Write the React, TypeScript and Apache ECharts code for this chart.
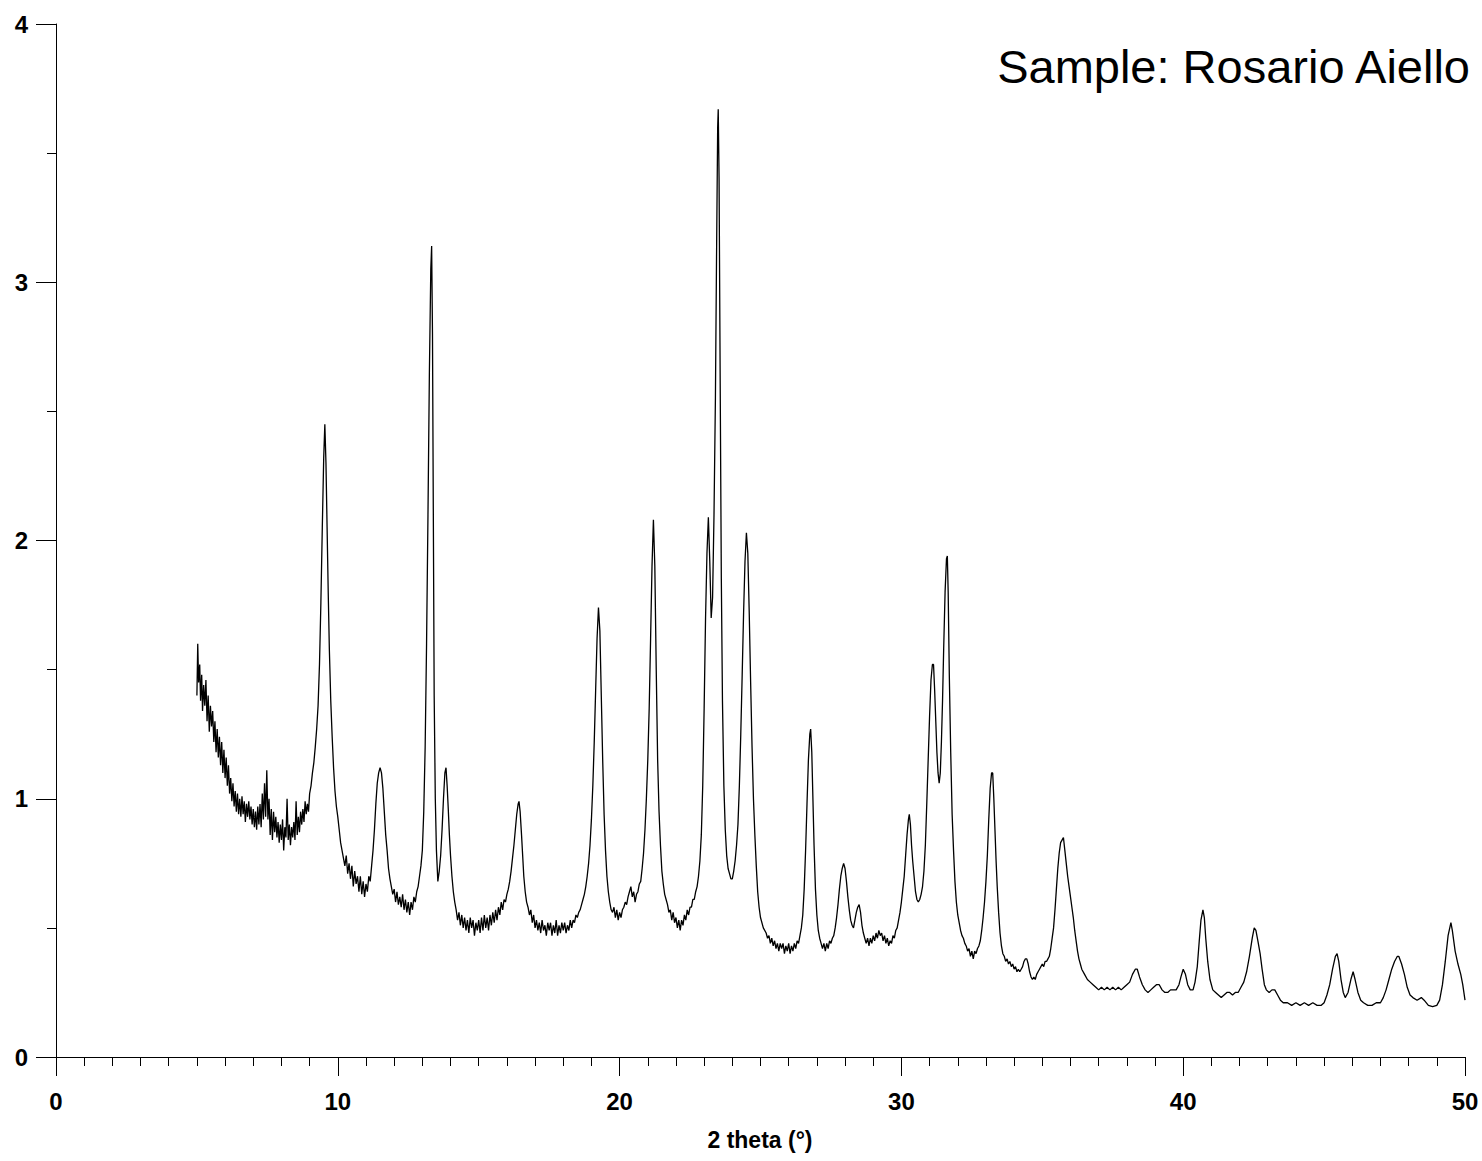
import React, { useEffect, useRef } from "react";
import * as echarts from "echarts";

const xTicks = [0, 10, 20, 30, 40, 50];
const yTicks = [0, 1, 2, 3, 4];
const titleText = "Sample: Rosario Aiello";
const xName = "2 theta (°)";

// 2-theta / intensity pairs
const lowAngle: [number, number][] = [
  [5.0, 1.4], [5.03, 1.6], [5.06, 1.45], [5.1, 1.52], [5.13, 1.38], [5.17, 1.48], [5.2, 1.34], [5.24, 1.44],
  [5.28, 1.36], [5.32, 1.46], [5.36, 1.3], [5.4, 1.4], [5.44, 1.26], [5.48, 1.36], [5.52, 1.28], [5.56, 1.34],
  [5.6, 1.22], [5.64, 1.3], [5.68, 1.18], [5.72, 1.27], [5.76, 1.16], [5.8, 1.24], [5.84, 1.13], [5.88, 1.22],
  [5.92, 1.1], [5.96, 1.19], [6.0, 1.08], [6.04, 1.16], [6.08, 1.05], [6.12, 1.13], [6.16, 1.02], [6.2, 1.08],
  [6.24, 0.99], [6.28, 1.06], [6.32, 0.97], [6.36, 1.03], [6.4, 0.95], [6.44, 1.02], [6.48, 0.94], [6.52, 1.0],
  [6.56, 0.93], [6.6, 1.01], [6.64, 0.94], [6.68, 0.99], [6.72, 0.91], [6.76, 0.98], [6.8, 0.93], [6.84, 0.99],
  [6.88, 0.92], [6.92, 0.97], [6.96, 0.9], [7.0, 0.96], [7.04, 0.89], [7.08, 0.95], [7.12, 0.88], [7.16, 0.97],
  [7.2, 0.9], [7.24, 0.98], [7.28, 0.89], [7.32, 1.02], [7.36, 0.92], [7.4, 1.06], [7.44, 0.93], [7.48, 1.11],
  [7.52, 0.92], [7.56, 1.0], [7.6, 0.86], [7.64, 0.96], [7.68, 0.84], [7.72, 0.95], [7.76, 0.87], [7.8, 0.93],
  [7.84, 0.85], [7.88, 0.91], [7.92, 0.83], [7.96, 0.9], [8.0, 0.84], [8.04, 0.92], [8.08, 0.8], [8.12, 0.89],
  [8.16, 0.85], [8.2, 1.0], [8.24, 0.84], [8.28, 0.9], [8.32, 0.82], [8.36, 0.89], [8.4, 0.85], [8.44, 0.91],
  [8.48, 0.84], [8.52, 0.99], [8.56, 0.86], [8.6, 0.93], [8.64, 0.87], [8.68, 0.95], [8.72, 0.9], [8.76, 0.96],
  [8.8, 0.91], [8.84, 0.99], [8.88, 0.94], [8.92, 0.98], [8.96, 0.95], [9.0, 1.02], [9.05, 1.05], [9.1, 1.1],
  [9.15, 1.14], [9.2, 1.2], [9.25, 1.27], [9.3, 1.36], [9.35, 1.52], [9.4, 1.76], [9.45, 2.05], [9.5, 2.32],
  [9.54, 2.45], [9.58, 2.3], [9.62, 2.05], [9.66, 1.8], [9.7, 1.58], [9.75, 1.38], [9.8, 1.24], [9.85, 1.12],
  [9.9, 1.03], [9.95, 0.97], [10.0, 0.93], [10.05, 0.88], [10.1, 0.83], [10.15, 0.8], [10.2, 0.77],
];

const range10to15: [number, number][] = [
  [10.25, 0.74], [10.3, 0.78], [10.35, 0.71], [10.4, 0.75], [10.45, 0.69], [10.5, 0.74], [10.55, 0.66], [10.6, 0.72],
  [10.65, 0.67], [10.7, 0.7], [10.75, 0.64], [10.8, 0.7], [10.85, 0.63], [10.9, 0.68], [10.95, 0.62], [11.0, 0.67],
  [11.05, 0.64], [11.1, 0.7], [11.15, 0.68], [11.2, 0.74], [11.25, 0.8], [11.3, 0.88], [11.35, 0.98], [11.4, 1.06],
  [11.45, 1.1], [11.5, 1.12], [11.55, 1.1], [11.6, 1.04], [11.65, 0.95], [11.7, 0.86], [11.75, 0.8], [11.8, 0.73],
  [11.85, 0.69], [11.9, 0.66], [11.95, 0.63], [12.0, 0.65], [12.05, 0.6], [12.1, 0.64], [12.15, 0.59], [12.2, 0.62],
  [12.25, 0.58], [12.3, 0.63], [12.35, 0.57], [12.4, 0.61], [12.45, 0.56], [12.5, 0.6], [12.55, 0.55], [12.6, 0.6],
  [12.65, 0.57], [12.7, 0.62], [12.75, 0.6], [12.8, 0.64], [12.85, 0.66], [12.9, 0.7], [12.95, 0.74], [13.0, 0.8],
  [13.05, 0.95], [13.1, 1.2], [13.15, 1.6], [13.2, 2.1], [13.25, 2.65], [13.3, 3.05], [13.33, 3.14], [13.36, 2.8],
  [13.39, 2.1], [13.42, 1.4], [13.46, 1.0], [13.5, 0.8], [13.55, 0.68], [13.6, 0.72], [13.65, 0.78], [13.7, 0.88],
  [13.75, 1.0], [13.8, 1.1], [13.84, 1.12], [13.88, 1.05], [13.92, 0.96], [13.96, 0.86], [14.0, 0.78], [14.05, 0.7],
  [14.1, 0.64], [14.15, 0.6], [14.2, 0.57], [14.25, 0.53], [14.3, 0.56], [14.35, 0.51], [14.4, 0.55], [14.45, 0.5],
  [14.5, 0.54], [14.55, 0.49], [14.6, 0.53], [14.65, 0.48], [14.7, 0.54], [14.75, 0.5], [14.8, 0.53], [14.85, 0.47],
  [14.9, 0.52], [14.95, 0.49], [15.0, 0.53],
];

const range15to20: [number, number][] = [
  [15.05, 0.48], [15.1, 0.54], [15.15, 0.49], [15.2, 0.55], [15.25, 0.5], [15.3, 0.54], [15.35, 0.49], [15.4, 0.55],
  [15.45, 0.51], [15.5, 0.56], [15.55, 0.52], [15.6, 0.57], [15.65, 0.53], [15.7, 0.58], [15.75, 0.55], [15.8, 0.6],
  [15.85, 0.57], [15.9, 0.61], [15.95, 0.6], [16.0, 0.63], [16.05, 0.65], [16.1, 0.68], [16.15, 0.72], [16.2, 0.77],
  [16.25, 0.82], [16.3, 0.88], [16.35, 0.94], [16.4, 0.98], [16.43, 0.99], [16.47, 0.95], [16.52, 0.86], [16.56, 0.78],
  [16.6, 0.7], [16.65, 0.64], [16.7, 0.6], [16.75, 0.58], [16.8, 0.55], [16.85, 0.57], [16.9, 0.52], [16.95, 0.55],
  [17.0, 0.5], [17.05, 0.53], [17.1, 0.49], [17.15, 0.52], [17.2, 0.48], [17.25, 0.53], [17.3, 0.49], [17.35, 0.51],
  [17.4, 0.47], [17.45, 0.52], [17.5, 0.49], [17.55, 0.52], [17.6, 0.47], [17.65, 0.51], [17.7, 0.48], [17.75, 0.53],
  [17.8, 0.47], [17.85, 0.51], [17.9, 0.48], [17.95, 0.52], [18.0, 0.49], [18.05, 0.52], [18.1, 0.48], [18.15, 0.51],
  [18.2, 0.49], [18.25, 0.53], [18.3, 0.5], [18.35, 0.53], [18.4, 0.52], [18.45, 0.55], [18.5, 0.54], [18.55, 0.56],
  [18.6, 0.57], [18.65, 0.59], [18.7, 0.61], [18.75, 0.63], [18.8, 0.66], [18.85, 0.7], [18.9, 0.75], [18.95, 0.82],
  [19.0, 0.92], [19.05, 1.05], [19.1, 1.22], [19.15, 1.42], [19.2, 1.62], [19.25, 1.74], [19.3, 1.65], [19.35, 1.4],
  [19.4, 1.15], [19.45, 0.94], [19.5, 0.8], [19.55, 0.7], [19.6, 0.64], [19.65, 0.6], [19.7, 0.57], [19.75, 0.56],
  [19.8, 0.58], [19.85, 0.54], [19.9, 0.57], [19.95, 0.53], [20.0, 0.56],
];

const range20to25: [number, number][] = [
  [20.05, 0.54], [20.1, 0.57], [20.15, 0.58], [20.2, 0.6], [20.25, 0.59], [20.3, 0.62], [20.35, 0.64], [20.4, 0.66],
  [20.45, 0.62], [20.5, 0.64], [20.55, 0.6], [20.6, 0.63], [20.65, 0.64], [20.7, 0.67], [20.75, 0.68], [20.8, 0.73],
  [20.85, 0.79], [20.9, 0.88], [20.95, 1.0], [21.0, 1.15], [21.05, 1.35], [21.1, 1.62], [21.15, 1.9], [21.2, 2.08],
  [21.25, 1.9], [21.3, 1.5], [21.35, 1.15], [21.4, 0.95], [21.45, 0.82], [21.5, 0.72], [21.55, 0.67], [21.6, 0.63],
  [21.65, 0.61], [21.7, 0.59], [21.75, 0.56], [21.8, 0.57], [21.85, 0.53], [21.9, 0.56], [21.95, 0.52], [22.0, 0.54],
  [22.05, 0.5], [22.1, 0.53], [22.15, 0.49], [22.2, 0.53], [22.25, 0.51], [22.3, 0.55], [22.35, 0.53], [22.4, 0.57],
  [22.45, 0.55], [22.5, 0.58], [22.55, 0.58], [22.6, 0.61], [22.65, 0.61], [22.7, 0.64], [22.75, 0.66], [22.8, 0.7],
  [22.85, 0.76], [22.9, 0.86], [22.95, 1.05], [23.0, 1.35], [23.05, 1.7], [23.1, 1.95], [23.15, 2.09], [23.2, 1.92],
  [23.25, 1.7], [23.3, 1.78], [23.35, 2.1], [23.4, 2.55], [23.44, 3.1], [23.48, 3.6], [23.5, 3.67], [23.53, 3.4],
  [23.57, 2.6], [23.61, 1.85], [23.65, 1.38], [23.7, 1.05], [23.75, 0.88], [23.8, 0.78], [23.85, 0.73], [23.9, 0.71],
  [23.95, 0.69], [24.0, 0.69], [24.05, 0.72], [24.1, 0.76], [24.15, 0.82], [24.2, 0.9], [24.25, 1.05], [24.3, 1.25],
  [24.35, 1.48], [24.4, 1.72], [24.45, 1.92], [24.5, 2.03], [24.55, 1.95], [24.6, 1.72], [24.65, 1.45], [24.7, 1.2],
  [24.75, 1.0], [24.8, 0.86], [24.85, 0.74], [24.9, 0.64], [24.95, 0.58], [25.0, 0.54],
];

const range25to30: [number, number][] = [
  [25.1, 0.5], [25.2, 0.48], [25.25, 0.46], [25.3, 0.47], [25.35, 0.44], [25.4, 0.46], [25.45, 0.43], [25.5, 0.45],
  [25.55, 0.42], [25.6, 0.44], [25.65, 0.41], [25.7, 0.44], [25.75, 0.42], [25.8, 0.44], [25.85, 0.4], [25.9, 0.43],
  [25.95, 0.41], [26.0, 0.44], [26.05, 0.4], [26.1, 0.43], [26.15, 0.41], [26.2, 0.44], [26.25, 0.42], [26.3, 0.45],
  [26.35, 0.44], [26.4, 0.47], [26.45, 0.5], [26.5, 0.55], [26.55, 0.65], [26.6, 0.8], [26.65, 0.98], [26.7, 1.15],
  [26.75, 1.25], [26.78, 1.27], [26.82, 1.18], [26.86, 1.0], [26.9, 0.82], [26.95, 0.65], [27.0, 0.55], [27.05, 0.49],
  [27.1, 0.46], [27.15, 0.44], [27.2, 0.42], [27.25, 0.44], [27.3, 0.41], [27.35, 0.44], [27.4, 0.42], [27.45, 0.45],
  [27.5, 0.44], [27.55, 0.46], [27.6, 0.47], [27.65, 0.5], [27.7, 0.54], [27.75, 0.59], [27.8, 0.65], [27.85, 0.7],
  [27.9, 0.73], [27.95, 0.75], [28.0, 0.73], [28.05, 0.68], [28.1, 0.62], [28.15, 0.57], [28.2, 0.53], [28.25, 0.51],
  [28.3, 0.5], [28.35, 0.53], [28.4, 0.56], [28.45, 0.58], [28.5, 0.59], [28.55, 0.56], [28.6, 0.51], [28.65, 0.48],
  [28.7, 0.46], [28.75, 0.44], [28.8, 0.46], [28.85, 0.43], [28.9, 0.46], [28.95, 0.44], [29.0, 0.47], [29.05, 0.45],
  [29.1, 0.48], [29.15, 0.46], [29.2, 0.49], [29.25, 0.47], [29.3, 0.48], [29.35, 0.45], [29.4, 0.47], [29.45, 0.44],
  [29.5, 0.46], [29.55, 0.43], [29.6, 0.45], [29.65, 0.44], [29.7, 0.47], [29.75, 0.46], [29.8, 0.49], [29.85, 0.5],
  [29.9, 0.53], [29.95, 0.56], [30.0, 0.6],
];

const range30to35: [number, number][] = [
  [30.05, 0.65], [30.1, 0.7], [30.15, 0.78], [30.2, 0.86], [30.25, 0.92], [30.28, 0.94], [30.32, 0.9], [30.36, 0.82],
  [30.4, 0.76], [30.45, 0.7], [30.5, 0.64], [30.55, 0.61], [30.6, 0.6], [30.65, 0.61], [30.7, 0.63], [30.75, 0.66],
  [30.8, 0.72], [30.85, 0.82], [30.9, 0.98], [30.95, 1.15], [31.0, 1.32], [31.05, 1.46], [31.1, 1.52], [31.14, 1.52],
  [31.18, 1.42], [31.22, 1.3], [31.26, 1.18], [31.3, 1.1], [31.34, 1.06], [31.38, 1.1], [31.42, 1.22], [31.46, 1.38],
  [31.5, 1.58], [31.55, 1.8], [31.6, 1.93], [31.63, 1.94], [31.66, 1.8], [31.7, 1.48], [31.75, 1.18], [31.8, 0.94],
  [31.85, 0.8], [31.9, 0.68], [31.95, 0.6], [32.0, 0.55], [32.05, 0.52], [32.1, 0.49], [32.15, 0.47], [32.2, 0.46],
  [32.25, 0.44], [32.3, 0.43], [32.35, 0.41], [32.4, 0.42], [32.45, 0.39], [32.5, 0.41], [32.55, 0.38], [32.6, 0.41],
  [32.65, 0.4], [32.7, 0.42], [32.75, 0.43], [32.8, 0.45], [32.85, 0.49], [32.9, 0.54], [32.95, 0.6], [33.0, 0.68],
  [33.05, 0.78], [33.1, 0.92], [33.15, 1.04], [33.2, 1.1], [33.24, 1.1], [33.28, 1.0], [33.32, 0.88], [33.36, 0.76],
  [33.4, 0.66], [33.45, 0.56], [33.5, 0.48], [33.55, 0.43], [33.6, 0.4], [33.65, 0.39], [33.7, 0.37], [33.75, 0.38],
  [33.8, 0.36], [33.85, 0.37], [33.9, 0.35], [33.95, 0.36], [34.0, 0.34], [34.05, 0.35], [34.1, 0.33], [34.15, 0.34],
  [34.2, 0.33], [34.25, 0.34], [34.3, 0.35], [34.35, 0.37], [34.4, 0.38], [34.45, 0.38], [34.5, 0.36], [34.55, 0.33],
  [34.6, 0.31], [34.65, 0.3], [34.7, 0.31], [34.75, 0.3], [34.8, 0.32], [34.85, 0.33], [34.9, 0.34], [34.95, 0.35],
  [35.0, 0.36],
];

const range35to50: [number, number][] = [
  [35.05, 0.35], [35.1, 0.37], [35.15, 0.37], [35.2, 0.38], [35.25, 0.39], [35.3, 0.42], [35.35, 0.46], [35.4, 0.5],
  [35.45, 0.57], [35.5, 0.65], [35.55, 0.73], [35.6, 0.79], [35.65, 0.83], [35.7, 0.84], [35.75, 0.85], [35.8, 0.8],
  [35.85, 0.75], [35.9, 0.7], [35.95, 0.66], [36.0, 0.62], [36.05, 0.58], [36.1, 0.54], [36.15, 0.49], [36.2, 0.45],
  [36.25, 0.41], [36.3, 0.38], [36.35, 0.36], [36.4, 0.34], [36.5, 0.32], [36.6, 0.3], [36.7, 0.29], [36.8, 0.28],
  [36.9, 0.27], [37.0, 0.26], [37.1, 0.27], [37.2, 0.26], [37.3, 0.27], [37.4, 0.26], [37.5, 0.27], [37.6, 0.26],
  [37.7, 0.27], [37.8, 0.26], [37.9, 0.27], [38.0, 0.28], [38.1, 0.29], [38.2, 0.32], [38.3, 0.34], [38.37, 0.34],
  [38.45, 0.31], [38.55, 0.28], [38.65, 0.26], [38.75, 0.25], [38.85, 0.26], [38.95, 0.27], [39.05, 0.28], [39.15, 0.28],
  [39.25, 0.26], [39.35, 0.25], [39.45, 0.25], [39.55, 0.26], [39.65, 0.26], [39.75, 0.26], [39.85, 0.28], [39.92, 0.31],
  [40.0, 0.34], [40.08, 0.32], [40.16, 0.28], [40.25, 0.26], [40.35, 0.26], [40.42, 0.29], [40.5, 0.35], [40.57, 0.45],
  [40.63, 0.53], [40.7, 0.57], [40.75, 0.54], [40.8, 0.46], [40.87, 0.37], [40.95, 0.3], [41.05, 0.26], [41.15, 0.25],
  [41.25, 0.24], [41.35, 0.23], [41.45, 0.24], [41.55, 0.25], [41.65, 0.25], [41.75, 0.24], [41.85, 0.25], [41.95, 0.25],
  [42.05, 0.27], [42.15, 0.29], [42.25, 0.33], [42.35, 0.39], [42.45, 0.46], [42.52, 0.5], [42.58, 0.49], [42.65, 0.45],
  [42.73, 0.4], [42.8, 0.34], [42.88, 0.28], [42.95, 0.26], [43.05, 0.25], [43.15, 0.26], [43.25, 0.26], [43.35, 0.24],
  [43.45, 0.22], [43.55, 0.21], [43.7, 0.21], [43.85, 0.2], [44.0, 0.21], [44.15, 0.2], [44.3, 0.21], [44.45, 0.2],
  [44.6, 0.21], [44.75, 0.2], [44.9, 0.2], [45.0, 0.21], [45.1, 0.24], [45.2, 0.28], [45.3, 0.34], [45.4, 0.39],
  [45.46, 0.4], [45.52, 0.37], [45.6, 0.3], [45.68, 0.25], [45.75, 0.23], [45.85, 0.25], [45.95, 0.3], [46.03, 0.33],
  [46.1, 0.3], [46.2, 0.25], [46.3, 0.22], [46.4, 0.21], [46.55, 0.2], [46.7, 0.2], [46.85, 0.21], [47.0, 0.21],
  [47.1, 0.23], [47.2, 0.26], [47.3, 0.3], [47.4, 0.34], [47.5, 0.37], [47.6, 0.39], [47.65, 0.39], [47.75, 0.36],
  [47.85, 0.32], [47.95, 0.27], [48.05, 0.24], [48.15, 0.23], [48.3, 0.22], [48.45, 0.23], [48.55, 0.22], [48.7, 0.2],
  [48.85, 0.195], [49.0, 0.2], [49.1, 0.22], [49.2, 0.28], [49.3, 0.37], [49.4, 0.47], [49.5, 0.52], [49.55, 0.49],
  [49.65, 0.41], [49.75, 0.36], [49.85, 0.32], [49.92, 0.28], [50.0, 0.22],
];

const pattern = [
  ...lowAngle,
  ...range10to15,
  ...range15to20,
  ...range20to25,
  ...range25to30,
  ...range30to35,
  ...range35to50,
];

const FONT = "'Liberation Sans', Arial, sans-serif";

export default function App() {
  const ref = useRef<HTMLDivElement>(null);

  useEffect(() => {
    if (!ref.current) return;
    const chart = echarts.init(ref.current, undefined, { renderer: "svg" });
    chart.setOption({
      animation: false,
      backgroundColor: "#ffffff",
      grid: { left: 56, right: 17, top: 24, bottom: 104, containLabel: false },
      xAxis: {
        type: "value",
        min: xTicks[0],
        max: xTicks[xTicks.length - 1],
        interval: xTicks[1] - xTicks[0],
        axisLine: { onZero: false, lineStyle: { color: "#000", width: 1 } },
        axisTick: { show: true, inside: false, length: 19, lineStyle: { color: "#000", width: 1 } },
        minorTick: { show: true, splitNumber: 10, length: 9, lineStyle: { color: "#000", width: 1 } },
        splitLine: { show: false },
        minorSplitLine: { show: false },
        axisLabel: {
          color: "#000",
          fontFamily: FONT,
          fontWeight: "bold",
          fontSize: 24,
          margin: 32,
        },
      },
      yAxis: {
        type: "value",
        min: yTicks[0],
        max: yTicks[yTicks.length - 1],
        interval: yTicks[1] - yTicks[0],
        axisLine: { show: true, lineStyle: { color: "#000", width: 1 } },
        axisTick: { show: true, inside: false, length: 20, lineStyle: { color: "#000", width: 1 } },
        minorTick: { show: true, splitNumber: 2, length: 9, lineStyle: { color: "#000", width: 1 } },
        splitLine: { show: false },
        minorSplitLine: { show: false },
        axisLabel: {
          color: "#000",
          fontFamily: FONT,
          fontWeight: "bold",
          fontSize: 24,
          margin: 28,
        },
      },
      series: [
        {
          type: "line",
          data: pattern,
          showSymbol: false,
          symbol: "none",
          lineStyle: { color: "#000", width: 1.3 },
          z: 3,
        },
      ],
      graphic: [
        {
          type: "text",
          x: 1470,
          y: 66,
          style: {
            text: titleText,
            fill: "#000",
            font: `normal 47px ${FONT}`,
            textAlign: "right",
            textVerticalAlign: "middle",
          },
        },
        {
          type: "text",
          x: 760,
          y: 1140,
          style: {
            text: xName,
            fill: "#000",
            font: `bold 23px ${FONT}`,
            textAlign: "center",
            textVerticalAlign: "middle",
          },
        },
      ],
    });
    return () => chart.dispose();
  }, []);

  return (
    <div
      ref={ref}
      style={{ position: "absolute", left: 0, top: 0, width: 1482, height: 1161, background: "#fff" }}
    />
  );
}
